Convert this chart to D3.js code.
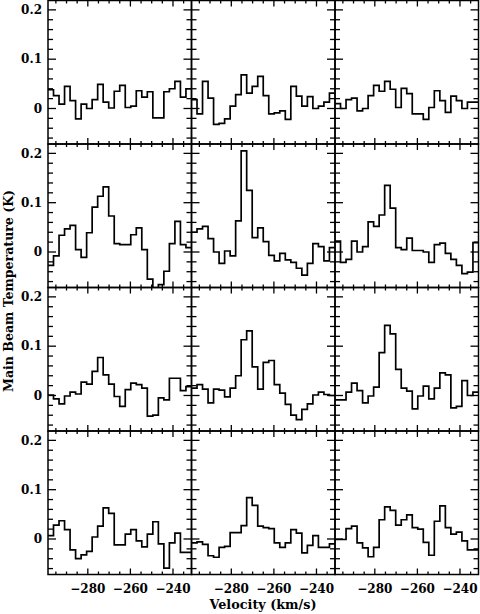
<!DOCTYPE html>
<html>
<head>
<meta charset="utf-8">
<script src="https://cdn.jsdelivr.net/npm/d3@7"></script>
<style>
  html, body { margin: 0; padding: 0; background: #fff; }
  svg { display: block; }
</style>
</head>
<body>
<svg id="chart" width="480" height="614"></svg>
<script>
// Channel centre velocities (km/s)
const velocity = [-297.41, -294.81, -292.22, -289.63, -287.04, -284.44, -281.85, -279.26, -276.67,
  -274.08, -271.49, -268.89, -266.30, -263.71, -261.12, -258.53, -255.94, -253.35, -250.75,
  -248.16, -245.57, -242.98, -240.39, -237.80, -235.21, -232.61];
const channelWidth = 2.59;

// Main beam temperature (K), one array per panel (row-major order)
const r1c1 = [0.038, 0.026, 0.009, 0.045, 0.016, -0.021, 0.009, 0.000, 0.018, 0.049, 0.013, 0.001, 0.035,
  0.047, 0.002, 0.005, 0.036, 0.023, 0.034, -0.019, -0.019, 0.034, 0.040, 0.055, 0.023, 0.040];
const r1c2 = [0.018, -0.011, 0.055, 0.021, -0.032, -0.030, -0.021, 0.005, 0.028, 0.068, 0.031, 0.045, 0.065,
  0.026, -0.011, -0.009, -0.005, -0.022, 0.045, 0.025, 0.005, 0.024, 0.000, 0.005, 0.013, 0.031];
const r1c3 = [0.010, 0.000, 0.018, 0.021, -0.005, 0.000, 0.026, 0.047, 0.035, 0.055, 0.039, 0.002, 0.041,
  0.030, -0.011, -0.011, -0.022, 0.002, 0.036, 0.016, -0.008, 0.025, 0.016, 0.000, 0.013, 0.013];
const r2c1 = [-0.027, -0.008, 0.034, 0.047, 0.054, 0.005, -0.011, 0.039, 0.091, 0.113, 0.132, 0.073, 0.017,
  0.015, 0.015, 0.035, 0.049, 0.005, -0.055, -0.080, -0.066, -0.039, 0.017, 0.062, 0.015, 0.009];
const r2c2 = [0.040, 0.047, 0.052, 0.027, 0.000, -0.023, 0.002, -0.008, 0.063, 0.205, 0.125, 0.029, 0.049,
  0.021, -0.007, -0.018, -0.003, -0.016, -0.021, -0.033, -0.047, -0.023, 0.017, 0.011, -0.018, 0.009];
const r2c3 = [0.022, -0.021, -0.015, 0.022, 0.000, 0.011, 0.061, 0.052, 0.075, 0.135, 0.089, 0.009, 0.005,
  0.028, 0.003, 0.003, 0.000, -0.021, 0.015, 0.018, -0.003, -0.015, -0.027, -0.044, -0.041, 0.019];
const r3c1 = [0.001, -0.007, -0.017, -0.001, 0.007, 0.003, 0.027, 0.023, 0.049, 0.077, 0.042, 0.023, -0.002,
  -0.022, 0.012, 0.025, 0.022, 0.015, -0.042, -0.040, -0.005, -0.009, 0.035, 0.035, 0.010, 0.018];
const r3c2 = [0.015, 0.022, 0.013, -0.015, 0.013, 0.011, -0.003, 0.015, 0.040, 0.113, 0.131, 0.058, 0.013,
  0.067, 0.071, 0.022, 0.005, -0.018, -0.040, -0.049, -0.028, -0.017, 0.001, 0.007, 0.002, 0.000];
const r3c3 = [-0.009, -0.009, 0.007, 0.025, 0.010, -0.015, -0.001, 0.017, 0.087, 0.142, 0.125, 0.053, 0.015,
  0.009, -0.027, -0.001, 0.019, -0.007, 0.015, 0.046, 0.042, -0.025, -0.022, 0.030, 0.000, 0.007];
const r4c1 = [0.007, 0.028, 0.037, 0.019, -0.022, -0.040, -0.032, -0.025, 0.004, 0.026, 0.063, 0.052, -0.012,
  -0.012, 0.010, 0.019, -0.004, -0.016, 0.010, 0.035, -0.010, -0.059, -0.008, 0.012, -0.027, -0.027];
const r4c2 = [-0.008, -0.006, -0.011, -0.034, -0.037, -0.017, -0.015, 0.013, 0.013, 0.027, 0.084, 0.068, 0.026,
  0.023, 0.021, -0.008, -0.017, -0.008, 0.019, 0.012, -0.028, -0.013, 0.007, -0.017, -0.017, -0.010];
const r4c3 = [-0.001, -0.001, 0.021, 0.026, -0.008, -0.018, -0.036, -0.017, 0.039, 0.065, 0.058, 0.028, 0.039,
  0.049, 0.023, 0.020, -0.007, -0.033, 0.036, 0.067, 0.023, 0.010, 0.014, -0.004, -0.022, -0.022];

const panels = [[r1c1, r1c2, r1c3], [r2c1, r2c2, r2c3], [r3c1, r3c2, r3c3], [r4c1, r4c2, r4c3]];

const xMajorTicks = [-280, -260, -240];
const xMinorTicks = [-295, -290, -285, -275, -270, -265, -255, -250, -245, -235];
const yMajorTicks = [0, 0.1, 0.2];
const yMinorTicks = [-0.06, -0.04, -0.02, 0.02, 0.04, 0.06, 0.08, 0.12, 0.14, 0.16, 0.18];
const xTickLabels = ["\u2212280", "\u2212260", "\u2212240"];
const yTickLabels = ["0", "0.1", "0.2"];
const xTitle = "Velocity (km/s)";
const yTitle = "Main Beam Temperature (K)";

// Layout
const padLeft = 48, padTop = 0.5, pw = 143.5, ph = 143.5;
const xDomain = [-298.7, -231.3], yDomain = [-0.072, 0.219];
const x = d3.scaleLinear().domain(xDomain).range([0, pw]);
const y = d3.scaleLinear().domain(yDomain).range([ph, 0]);

const svg = d3.select("#chart");
const defs = svg.append("defs");
defs.append("clipPath").attr("id", "pclip").append("rect")
  .attr("x", 0).attr("y", 0).attr("width", pw).attr("height", ph);

const fontTick = "'DejaVu Serif', serif";
const lw = 1.7;

const line = d3.line().x(d => x(d[0])).y(d => y(d[1]));

panels.forEach((row, ri) => {
  row.forEach((vals, ci) => {
    const g = svg.append("g").attr("transform", `translate(${padLeft + ci * pw},${padTop + ri * ph})`);
    const pts = [];
    vals.forEach((t, i) => {
      pts.push([velocity[i] - channelWidth / 2, t]);
      pts.push([velocity[i] + channelWidth / 2, t]);
    });
    g.append("path").datum(pts)
      .attr("clip-path", "url(#pclip)")
      .attr("d", line)
      .attr("fill", "none").attr("stroke", "#000")
      .attr("stroke-width", lw).attr("stroke-linejoin", "miter");

    const tickG = g.append("g").attr("stroke", "#000").attr("stroke-width", 1.3);
    xMajorTicks.forEach(v => {
      tickG.append("line").attr("x1", x(v)).attr("x2", x(v)).attr("y1", ph).attr("y2", ph - 6);
      tickG.append("line").attr("x1", x(v)).attr("x2", x(v)).attr("y1", 0).attr("y2", 6);
    });
    xMinorTicks.forEach(v => {
      tickG.append("line").attr("x1", x(v)).attr("x2", x(v)).attr("y1", ph).attr("y2", ph - 3);
      tickG.append("line").attr("x1", x(v)).attr("x2", x(v)).attr("y1", 0).attr("y2", 3);
    });
    yMajorTicks.forEach(v => {
      tickG.append("line").attr("y1", y(v)).attr("y2", y(v)).attr("x1", 0).attr("x2", 8);
      tickG.append("line").attr("y1", y(v)).attr("y2", y(v)).attr("x1", pw).attr("x2", pw - 8);
    });
    yMinorTicks.forEach(v => {
      tickG.append("line").attr("y1", y(v)).attr("y2", y(v)).attr("x1", 0).attr("x2", 5);
      tickG.append("line").attr("y1", y(v)).attr("y2", y(v)).attr("x1", pw).attr("x2", pw - 5);
    });

    g.append("rect").attr("x", 0).attr("y", 0).attr("width", pw).attr("height", ph)
      .attr("fill", "none").attr("stroke", "#000").attr("stroke-width", 1.5);

    if (ci === 0) {
      yMajorTicks.forEach((v, i) => {
        g.append("text").attr("x", -6).attr("y", y(v)).attr("dy", "0.35em")
          .attr("text-anchor", "end").attr("font-family", fontTick)
          .attr("font-weight", "bold").attr("font-size", 12).attr("fill", "#000")
          .text(yTickLabels[i]);
      });
    }
    if (ri === panels.length - 1) {
      xMajorTicks.forEach((v, i) => {
        g.append("text").attr("x", x(v)).attr("y", ph + 18)
          .attr("text-anchor", "middle").attr("font-family", fontTick)
          .attr("font-weight", "bold").attr("font-size", 12).attr("fill", "#000")
          .text(xTickLabels[i]);
      });
    }
  });
});

svg.append("text").attr("x", 263).attr("y", 609)
  .attr("text-anchor", "middle").attr("font-family", fontTick)
  .attr("font-weight", "bold").attr("font-size", 12).attr("fill", "#000")
  .attr("textLength", 107).attr("lengthAdjust", "spacingAndGlyphs")
  .text(xTitle);
svg.append("text").attr("transform", "translate(13,291) rotate(-90)")
  .attr("text-anchor", "middle").attr("font-family", fontTick)
  .attr("font-weight", "bold").attr("font-size", 12).attr("fill", "#000")
  .attr("textLength", 202).attr("lengthAdjust", "spacingAndGlyphs")
  .text(yTitle);
</script>
</body>
</html>
